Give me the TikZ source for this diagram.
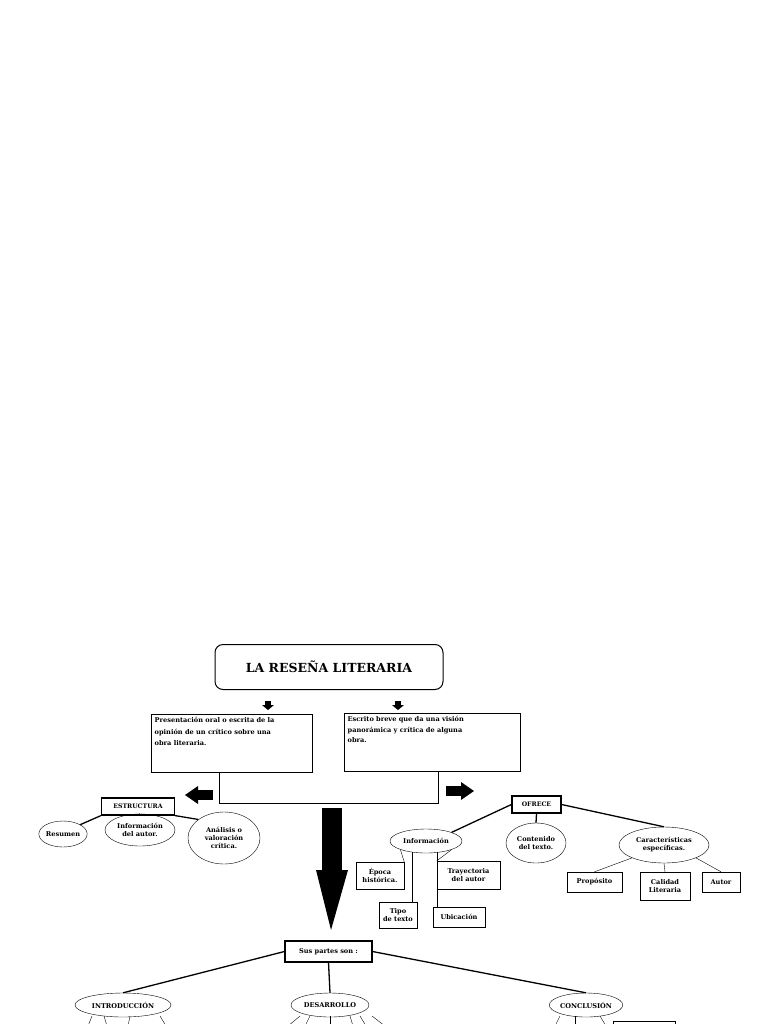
\documentclass[tikz,border=0pt]{standalone}
\usepackage{fontspec}
\setmainfont{DejaVu Serif}
\usetikzlibrary{shapes.geometric,calc}
\begin{document}
\begin{tikzpicture}[x=1pt,y=-1pt,
  txt/.style={font=\bfseries\fontsize{6.6}{8}\selectfont,align=center,inner sep=0.5pt},
  sbox/.style={txt,draw,thin,minimum height=0pt},
  ovl/.style={txt,draw,ellipse,inner sep=0pt},
  thk/.style={line width=1.3pt},
  thn/.style={line width=0.4pt}]
\useasboundingbox[fill=white] (0,0) rectangle (768,1024);
% title
\node[draw,line width=1pt,rounded corners=8pt,minimum width=228pt,minimum height=45pt,font=\bfseries\fontsize{12.5}{14}\selectfont] (title) at (329,667) {LA RESEÑA LITERARIA};
% small arrows
\foreach \n/\x in {a1/268,a2/398}{
 \fill (\x-3,701) rectangle (\x+3,705);
 \fill (\x-6,705) -- (\x+6,705) -- (\x,710) -- cycle;}
% boxes
\node[draw,thn,minimum width=161pt,minimum height=58pt,anchor=north west,inner sep=0pt] (b1) at (151,714) {};
\node[txt,anchor=north west,align=left,font=\bfseries\fontsize{6.6}{11.5}\selectfont] at (154,717) {Presentación oral o escrita de la\\opinión de un crítico sobre una\\obra literaria.};
\node[draw,thn,minimum width=176pt,minimum height=58pt,anchor=north west,inner sep=0pt] (b2) at (344,713) {};
\node[txt,anchor=north west,align=left,font=\bfseries\fontsize{6.6}{10.5}\selectfont] at (347,716) {Escrito breve que da una visión\\panorámica y crítica de alguna\\obra.};
\coordinate (c1) at (219,803); \coordinate (c2) at (438,803);
\draw[line width=0.9pt] (b1.south -| c1) -- (c1) -- (c2) -- (b2.south -| c2);
% left/right block arrows
\fill (198,790) rectangle (213,800); \fill (198,786) -- (198,804) -- (185,795) -- cycle;
\fill (446,786) rectangle (461,796); \fill (461,782) -- (461,800) -- (474,791) -- cycle;
% estructura
\node[sbox,line width=1.2pt,minimum width=73pt,minimum height=17pt,font=\bfseries\fontsize{6.2}{7}\selectfont] (est) at (138,806.5) {ESTRUCTURA};
\node[ovl,minimum width=46pt,minimum height=26pt] (res) at (63,834) {Resumen};
\node[ovl,minimum width=70pt,minimum height=32pt] (inf) at (140,830) {Información\\del autor.};
\node[ovl,minimum width=72pt,minimum height=52pt] (ana) at (224,838) {Análisis o\\valoración\\crítica.};
\draw[thk] (est.south west) -- (res.north east);
\draw[thk] (est.south) -- (inf.north);
\draw[thk] (est.south east) -- (ana.north west);
% big arrow
\fill (322,808) rectangle (342,870);
\fill (316,870) -- (348,870) -- (331,930) -- cycle;
% ofrece
\node[sbox,line width=1.2pt,minimum width=49pt,minimum height=17pt,font=\bfseries\fontsize{6.2}{7}\selectfont] (of) at (536.5,804.5) {OFRECE};
\node[ovl,minimum width=72pt,minimum height=24pt] (info) at (426,841) {Información};
\node[ovl,minimum width=60pt,minimum height=40pt] (cont) at (536,843) {Contenido\\del texto.};
\node[ovl,minimum width=90pt,minimum height=36pt] (car) at (664,845) {Características\\específicas.};
\draw[thk] (of.west) -- (info.north east);
\draw[thk] (of.south) -- (cont.north);
\draw[thk] (of.east) -- (car.north);
\node[sbox,minimum width=48pt,minimum height=27pt] (ep) at (380,875.5) {Época\\histórica.};
\node[sbox,minimum width=38pt,minimum height=26pt] (tip) at (398,915) {Tipo\\de texto};
\node[sbox,minimum width=52pt,minimum height=20pt] (ubi) at (459,917) {Ubicación};
\node[sbox,minimum width=63pt,minimum height=28pt] (tra) at (468.5,875) {Trayectoria\\del autor};
\draw[thn] (info.south west) -- (ep.north east);
\draw[thn] (412,852) -- (412,902);
\draw[thn] (437,852) -- (437,907);
\draw[thn] (info.south east) -- (tra.north west);
\node[sbox,minimum width=55pt,minimum height=20pt] (pro) at (594.5,882) {Propósito};
\node[sbox,minimum width=50pt,minimum height=28pt] (cal) at (665,886) {Calidad\\Literaria};
\node[sbox,minimum width=38pt,minimum height=20pt] (aut) at (721,882) {Autor};
\draw[thn] (car.south west) -- (pro.north);
\draw[thn] (car.south) -- (cal.north);
\draw[thn] (car.south east) -- (aut.north);
% partes
\node[sbox,line width=1.1pt,minimum width=87pt,minimum height=21pt] (sus) at (328.5,951.5) {Sus partes son :};
\node[ovl,minimum width=96pt,minimum height=24pt] (intro) at (123,1005) {INTRODUCCIÓN};
\node[ovl,minimum width=78pt,minimum height=24pt] (des) at (330,1005) {DESARROLLO};
\node[ovl,minimum width=72pt,minimum height=24pt] (con) at (586,1005) {CONCLUSIÓN};
\draw[thk] (sus.west) -- (intro.north);
\draw[thk] (sus.south) -- (des.north);
\draw[thk] (sus.east) -- (con.north);
% bottom stubs
\foreach \a/\b in {92/88,104/107,130/128,160/166}{\draw[thn] (\a,1016)--(\b,1026);}
\foreach \a/\b in {300/288,310/305,330/330,350/353,360/366,372/385}{\draw[thn] (\a,1016)--(\b,1026);}
\foreach \a/\b in {560/555,575/575,600/606}{\draw[thn] (\a,1016)--(\b,1026);}
\draw[thn] (613,1030) -- (613,1021) -- (675,1021) -- (675,1030);
\end{tikzpicture}
\end{document}
